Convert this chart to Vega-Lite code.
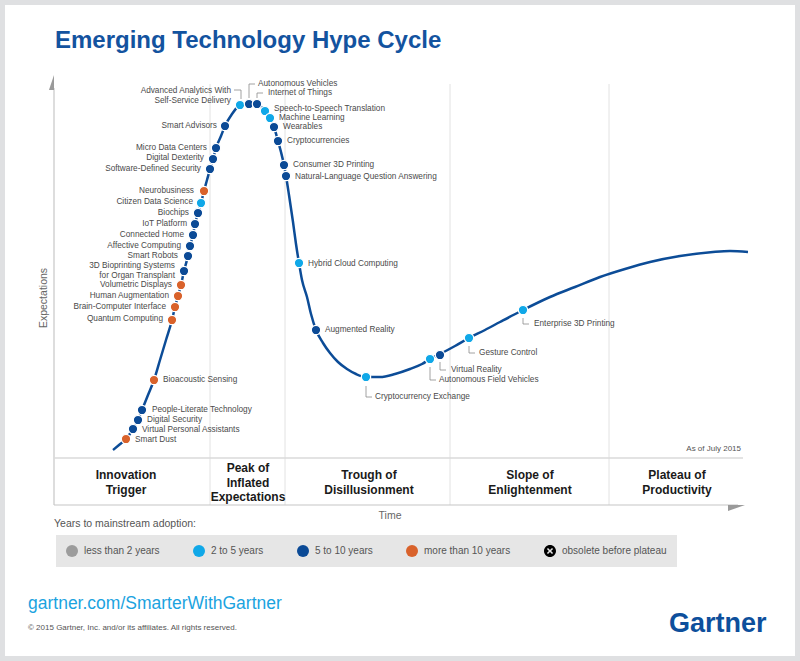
{
  "$schema": "https://vega.github.io/schema/vega-lite/v6.json",
  "width": 800,
  "height": 661,
  "autosize": {"type": "fit", "contains": "padding"},
  "padding": 5,
  "background": "#dfe0e2",
  "config": {
    "view": {"fill": "#ffffff", "stroke": null},
    "text": {"font": "Liberation Sans"}
  },
  "datasets": {
    "tech": [
      {"label": "Smart Dust", "x": 126, "y": 439, "adoption": "more than 10 years", "lx": 135, "ly": 440, "side": "R"},
      {"label": "Virtual Personal Assistants", "x": 133, "y": 429, "adoption": "5 to 10 years", "lx": 142, "ly": 430, "side": "R"},
      {"label": "Digital Security", "x": 138, "y": 420, "adoption": "5 to 10 years", "lx": 147, "ly": 420, "side": "R"},
      {"label": "People-Literate Technology", "x": 142, "y": 410, "adoption": "5 to 10 years", "lx": 152, "ly": 410, "side": "R"},
      {"label": "Bioacoustic Sensing", "x": 154, "y": 380, "adoption": "more than 10 years", "lx": 163, "ly": 380, "side": "R"},
      {"label": "Quantum Computing", "x": 172, "y": 320, "adoption": "more than 10 years", "lx": 163, "ly": 319, "side": "L"},
      {"label": "Brain-Computer Interface", "x": 175, "y": 307, "adoption": "more than 10 years", "lx": 166, "ly": 307, "side": "L"},
      {"label": "Human Augmentation", "x": 178, "y": 296, "adoption": "more than 10 years", "lx": 169, "ly": 296, "side": "L"},
      {"label": "Volumetric Displays", "x": 181, "y": 285, "adoption": "more than 10 years", "lx": 172, "ly": 285, "side": "L"},
      {"label": "3D Bioprinting Systems\nfor Organ Transplant", "x": 184, "y": 271, "adoption": "5 to 10 years", "lx": 175, "ly": 266, "side": "L"},
      {"label": "Smart Robots", "x": 188, "y": 256, "adoption": "5 to 10 years", "lx": 178, "ly": 256, "side": "L"},
      {"label": "Affective Computing", "x": 190, "y": 246, "adoption": "5 to 10 years", "lx": 181, "ly": 245.5, "side": "L"},
      {"label": "Connected Home", "x": 193, "y": 235, "adoption": "5 to 10 years", "lx": 184, "ly": 234.5, "side": "L"},
      {"label": "IoT Platform", "x": 195, "y": 224, "adoption": "5 to 10 years", "lx": 187, "ly": 223.5, "side": "L"},
      {"label": "Biochips", "x": 198, "y": 213, "adoption": "5 to 10 years", "lx": 189, "ly": 212.5, "side": "L"},
      {"label": "Citizen Data Science", "x": 201, "y": 203, "adoption": "2 to 5 years", "lx": 193, "ly": 202, "side": "L"},
      {"label": "Neurobusiness", "x": 204, "y": 191, "adoption": "more than 10 years", "lx": 194, "ly": 190.5, "side": "L"},
      {"label": "Software-Defined Security", "x": 210, "y": 169, "adoption": "5 to 10 years", "lx": 201, "ly": 168.5, "side": "L"},
      {"label": "Digital Dexterity", "x": 213, "y": 159, "adoption": "5 to 10 years", "lx": 204, "ly": 158, "side": "L"},
      {"label": "Micro Data Centers", "x": 216, "y": 148, "adoption": "5 to 10 years", "lx": 207, "ly": 147.5, "side": "L"},
      {"label": "Smart Advisors", "x": 225, "y": 126, "adoption": "5 to 10 years", "lx": 217, "ly": 126, "side": "L"},
      {"label": "Advanced Analytics With\nSelf-Service Delivery", "x": 240, "y": 105, "adoption": "2 to 5 years", "lx": 231, "ly": 91, "side": "L"},
      {"label": "Autonomous Vehicles", "x": 249, "y": 104, "adoption": "5 to 10 years", "lx": 258, "ly": 84, "side": "R"},
      {"label": "Internet of Things", "x": 257, "y": 104, "adoption": "5 to 10 years", "lx": 268, "ly": 93, "side": "R"},
      {"label": "Speech-to-Speech Translation", "x": 265, "y": 111, "adoption": "2 to 5 years", "lx": 274, "ly": 109, "side": "R"},
      {"label": "Machine Learning", "x": 270, "y": 118, "adoption": "2 to 5 years", "lx": 279, "ly": 118, "side": "R"},
      {"label": "Wearables", "x": 274, "y": 127, "adoption": "5 to 10 years", "lx": 283, "ly": 127, "side": "R"},
      {"label": "Cryptocurrencies", "x": 278, "y": 141, "adoption": "5 to 10 years", "lx": 287, "ly": 141, "side": "R"},
      {"label": "Consumer 3D Printing", "x": 284, "y": 165, "adoption": "5 to 10 years", "lx": 293, "ly": 165, "side": "R"},
      {"label": "Natural-Language Question Answering", "x": 286, "y": 176, "adoption": "5 to 10 years", "lx": 295, "ly": 177, "side": "R"},
      {"label": "Hybrid Cloud Computing", "x": 299, "y": 263, "adoption": "2 to 5 years", "lx": 308, "ly": 264, "side": "R"},
      {"label": "Augmented Reality", "x": 316, "y": 330, "adoption": "5 to 10 years", "lx": 325, "ly": 330, "side": "R"},
      {"label": "Cryptocurrency Exchange", "x": 366, "y": 377, "adoption": "2 to 5 years", "lx": 375, "ly": 397, "side": "R"},
      {"label": "Autonomous Field Vehicles", "x": 430, "y": 359, "adoption": "2 to 5 years", "lx": 439, "ly": 380, "side": "R"},
      {"label": "Virtual Reality", "x": 440, "y": 355, "adoption": "5 to 10 years", "lx": 451, "ly": 370, "side": "R"},
      {"label": "Gesture Control", "x": 469, "y": 338, "adoption": "2 to 5 years", "lx": 479, "ly": 353, "side": "R"},
      {"label": "Enterprise 3D Printing", "x": 523, "y": 310, "adoption": "2 to 5 years", "lx": 534, "ly": 324, "side": "R"}
    ],
    "curve": [
      {"x": 113, "y": 450}, {"x": 119, "y": 445}, {"x": 126, "y": 439}, {"x": 133, "y": 429},
      {"x": 138, "y": 420}, {"x": 142, "y": 410}, {"x": 148, "y": 395}, {"x": 154, "y": 380},
      {"x": 160, "y": 360}, {"x": 166, "y": 340}, {"x": 172, "y": 320}, {"x": 175, "y": 307},
      {"x": 178, "y": 296}, {"x": 181, "y": 285}, {"x": 184, "y": 271}, {"x": 188, "y": 256},
      {"x": 190, "y": 246}, {"x": 193, "y": 235}, {"x": 195, "y": 224}, {"x": 198, "y": 213},
      {"x": 201, "y": 203}, {"x": 204, "y": 191}, {"x": 207, "y": 180}, {"x": 210, "y": 169},
      {"x": 213, "y": 159}, {"x": 216, "y": 148}, {"x": 221, "y": 136}, {"x": 225, "y": 126},
      {"x": 232, "y": 114}, {"x": 240, "y": 105}, {"x": 249, "y": 103}, {"x": 257, "y": 104},
      {"x": 265, "y": 111}, {"x": 270, "y": 118}, {"x": 274, "y": 127}, {"x": 278, "y": 141},
      {"x": 281, "y": 152}, {"x": 284, "y": 165}, {"x": 286, "y": 176}, {"x": 289, "y": 195},
      {"x": 293, "y": 222}, {"x": 296, "y": 244}, {"x": 299, "y": 263}, {"x": 302, "y": 280},
      {"x": 307, "y": 297}, {"x": 311, "y": 314}, {"x": 316, "y": 330}, {"x": 323, "y": 343},
      {"x": 330, "y": 353}, {"x": 338, "y": 362}, {"x": 347, "y": 369}, {"x": 356, "y": 374},
      {"x": 366, "y": 377}, {"x": 380, "y": 377}, {"x": 395, "y": 374}, {"x": 410, "y": 369},
      {"x": 422, "y": 364}, {"x": 430, "y": 359}, {"x": 440, "y": 354}, {"x": 455, "y": 346},
      {"x": 469, "y": 338}, {"x": 485, "y": 330}, {"x": 500, "y": 322}, {"x": 523, "y": 310},
      {"x": 550, "y": 297}, {"x": 575, "y": 287}, {"x": 600, "y": 277}, {"x": 625, "y": 269},
      {"x": 650, "y": 262}, {"x": 680, "y": 256}, {"x": 713, "y": 252}, {"x": 730, "y": 251},
      {"x": 748, "y": 252}
    ],
    "brackets": [
      {"id": "AA", "o": 1, "x": 234, "y": 90}, {"id": "AA", "o": 2, "x": 241, "y": 90}, {"id": "AA", "o": 3, "x": 241, "y": 99},
      {"id": "AV", "o": 1, "x": 255, "y": 84}, {"id": "AV", "o": 2, "x": 249, "y": 84}, {"id": "AV", "o": 3, "x": 249, "y": 98},
      {"id": "IoT", "o": 1, "x": 263, "y": 93}, {"id": "IoT", "o": 2, "x": 257, "y": 93}, {"id": "IoT", "o": 3, "x": 257, "y": 98},
      {"id": "CE", "o": 1, "x": 366, "y": 386}, {"id": "CE", "o": 2, "x": 366, "y": 397}, {"id": "CE", "o": 3, "x": 372, "y": 397},
      {"id": "AFV", "o": 1, "x": 430, "y": 367}, {"id": "AFV", "o": 2, "x": 430, "y": 380}, {"id": "AFV", "o": 3, "x": 436, "y": 380},
      {"id": "VR", "o": 1, "x": 440, "y": 362}, {"id": "VR", "o": 2, "x": 440, "y": 370}, {"id": "VR", "o": 3, "x": 446, "y": 370},
      {"id": "GC", "o": 1, "x": 469, "y": 346}, {"id": "GC", "o": 2, "x": 469, "y": 353}, {"id": "GC", "o": 3, "x": 475, "y": 353},
      {"id": "E3D", "o": 1, "x": 523, "y": 318}, {"id": "E3D", "o": 2, "x": 523, "y": 324}, {"id": "E3D", "o": 3, "x": 529, "y": 324}
    ]
  },
  "encoding": {
    "x": {"field": "x", "type": "quantitative", "scale": {"domain": [5, 795], "nice": false, "zero": false}, "axis": null},
    "y": {"field": "y", "type": "quantitative", "scale": {"domain": [5, 656], "nice": false, "zero": false, "reverse": true}, "axis": null}
  },
  "layer": [
    {
      "data": {"values": [{"x": 210, "y": 84, "y2": 505}, {"x": 285, "y": 84, "y2": 505}, {"x": 450, "y": 84, "y2": 505}, {"x": 609, "y": 84, "y2": 505}]},
      "mark": {"type": "rule", "color": "#e2e2e2", "strokeWidth": 1},
      "encoding": {"y2": {"field": "y2"}}
    },
    {
      "data": {"values": [{"x": 54, "y": 88, "y2": 505}]},
      "mark": {"type": "rule", "color": "#c6c6c6", "strokeWidth": 1.2},
      "encoding": {"y2": {"field": "y2"}}
    },
    {
      "data": {"values": [{"x": 54, "x2": 743, "y": 458}]},
      "mark": {"type": "rule", "color": "#dadada", "strokeWidth": 1.3},
      "encoding": {"x2": {"field": "x2"}}
    },
    {
      "data": {"values": [{"x": 54, "x2": 738, "y": 505}]},
      "mark": {"type": "rule", "color": "#c6c6c6", "strokeWidth": 1.2},
      "encoding": {"x2": {"field": "x2"}}
    },
    {
      "data": {"values": [{"x": 54, "y": 82.5}]},
      "mark": {"type": "point", "shape": "M0,-1L0,1L-0.667,1Z", "size": 225, "filled": true, "color": "#9a9a9a", "opacity": 1, "strokeWidth": 0}
    },
    {
      "data": {"values": [{"x": 736.5, "y": 505}]},
      "mark": {"type": "point", "shape": "M-1,0L1,0L-1,0.706Z", "size": 289, "filled": true, "color": "#9a9a9a", "opacity": 1, "strokeWidth": 0}
    },
    {
      "data": {"name": "curve"},
      "mark": {"type": "line", "interpolate": "monotone", "color": "#0c4c97", "strokeWidth": 2.5}
    },
    {
      "data": {"name": "brackets"},
      "mark": {"type": "line", "color": "#8a8a8a", "strokeWidth": 0.8},
      "encoding": {"detail": {"field": "id"}, "order": {"field": "o", "type": "quantitative"}}
    },
    {
      "data": {"name": "tech"},
      "mark": {"type": "point", "filled": true, "size": 88, "stroke": "#ffffff", "strokeWidth": 1.2, "opacity": 1},
      "encoding": {
        "color": {
          "field": "adoption", "type": "nominal",
          "scale": {
            "domain": ["less than 2 years", "2 to 5 years", "5 to 10 years", "more than 10 years", "obsolete before plateau"],
            "range": ["#9c9c9c", "#10a8e8", "#0b4a96", "#d9622b", "#000000"]
          },
          "legend": {"title": null, "orient": "none", "legendX": 51, "legendY": 530, "direction": "horizontal", "fillColor": "#e6e6e6", "padding": 10, "symbolSize": 144, "labelFont": "Liberation Sans", "labelFontSize": 10, "labelColor": "#555555", "labelOffset": 6, "columnPadding": 33, "symbolStrokeWidth": 0, "symbolOpacity": 1}
        },
        "shape": {
          "field": "adoption", "type": "nominal",
          "scale": {
            "domain": ["less than 2 years", "2 to 5 years", "5 to 10 years", "more than 10 years", "obsolete before plateau"],
            "range": ["circle", "circle", "circle", "circle", "M1,0A1,1,0,1,1,-1,0A1,1,0,1,1,1,0ZM0.332,-0.516L0,-0.184L-0.332,-0.516L-0.516,-0.332L-0.184,0L-0.516,0.332L-0.332,0.516L0,0.184L0.332,0.516L0.516,0.332L0.184,0L0.516,-0.332Z"]
          },
          "legend": {"title": null, "orient": "none", "legendX": 51, "legendY": 530, "direction": "horizontal", "fillColor": "#e6e6e6", "padding": 10, "symbolSize": 144, "labelFont": "Liberation Sans", "labelFontSize": 10, "labelColor": "#555555", "labelOffset": 6, "columnPadding": 33, "symbolStrokeWidth": 0, "symbolOpacity": 1}
        }
      }
    },
    {
      "data": {"name": "tech"},
      "transform": [{"filter": "datum.side === 'L'"}],
      "mark": {"type": "text", "align": "right", "baseline": "middle", "fontSize": 8.25, "color": "#4a4a4a", "lineBreak": "\n", "lineHeight": 9.8},
      "encoding": {
        "x": {"field": "lx", "type": "quantitative"},
        "y": {"field": "ly", "type": "quantitative"},
        "text": {"field": "label"}
      }
    },
    {
      "data": {"name": "tech"},
      "transform": [{"filter": "datum.side === 'R'"}],
      "mark": {"type": "text", "align": "left", "baseline": "middle", "fontSize": 8.25, "color": "#4a4a4a", "lineBreak": "\n", "lineHeight": 9.8},
      "encoding": {
        "x": {"field": "lx", "type": "quantitative"},
        "y": {"field": "ly", "type": "quantitative"},
        "text": {"field": "label"}
      }
    },
    {
      "data": {"values": [
        {"label": "Innovation\nTrigger", "x": 126, "y": 475},
        {"label": "Peak of\nInflated\nExpectations", "x": 248, "y": 468},
        {"label": "Trough of\nDisillusionment", "x": 369, "y": 475},
        {"label": "Slope of\nEnlightenment", "x": 530, "y": 475},
        {"label": "Plateau of\nProductivity", "x": 677, "y": 475}
      ]},
      "mark": {"type": "text", "align": "center", "baseline": "middle", "fontSize": 12, "fontWeight": "bold", "color": "#1a1a1a", "lineBreak": "\n", "lineHeight": 14.5},
      "encoding": {"text": {"field": "label"}}
    },
    {
      "data": {"values": [{"label": "Emerging Technology Hype Cycle", "x": 55, "y": 48}]},
      "mark": {"type": "text", "align": "left", "baseline": "alphabetic", "fontSize": 24, "fontWeight": "bold", "color": "#13539f"},
      "encoding": {"text": {"field": "label"}}
    },
    {
      "data": {"values": [{"label": "Expectations", "x": 44, "y": 298}]},
      "mark": {"type": "text", "align": "center", "baseline": "middle", "fontSize": 10.5, "angle": 270, "color": "#666666"},
      "encoding": {"text": {"field": "label"}}
    },
    {
      "data": {"values": [{"label": "Time", "x": 390, "y": 516}]},
      "mark": {"type": "text", "align": "center", "baseline": "middle", "fontSize": 10.5, "color": "#666666"},
      "encoding": {"text": {"field": "label"}}
    },
    {
      "data": {"values": [{"label": "Years to mainstream adoption:", "x": 54, "y": 524}]},
      "mark": {"type": "text", "align": "left", "baseline": "middle", "fontSize": 10.5, "color": "#555555"},
      "encoding": {"text": {"field": "label"}}
    },
    {
      "data": {"values": [{"label": "As of July 2015", "x": 741, "y": 449}]},
      "mark": {"type": "text", "align": "right", "baseline": "middle", "fontSize": 8, "color": "#555555"},
      "encoding": {"text": {"field": "label"}}
    },
    {
      "data": {"values": [{"label": "gartner.com/SmarterWithGartner", "x": 28, "y": 604}]},
      "mark": {"type": "text", "align": "left", "baseline": "middle", "fontSize": 17.5, "color": "#1ba3df"},
      "encoding": {"text": {"field": "label"}}
    },
    {
      "data": {"values": [{"label": "© 2015 Gartner, Inc. and/or its affiliates. All rights reserved.", "x": 28, "y": 628}]},
      "mark": {"type": "text", "align": "left", "baseline": "middle", "fontSize": 8, "color": "#555555"},
      "encoding": {"text": {"field": "label"}}
    },
    {
      "data": {"values": [{"label": "Gartner", "x": 669, "y": 632}]},
      "mark": {"type": "text", "align": "left", "baseline": "alphabetic", "fontSize": 27, "fontWeight": "bold", "color": "#0d4f9c"},
      "encoding": {"text": {"field": "label"}}
    }
  ]
}
